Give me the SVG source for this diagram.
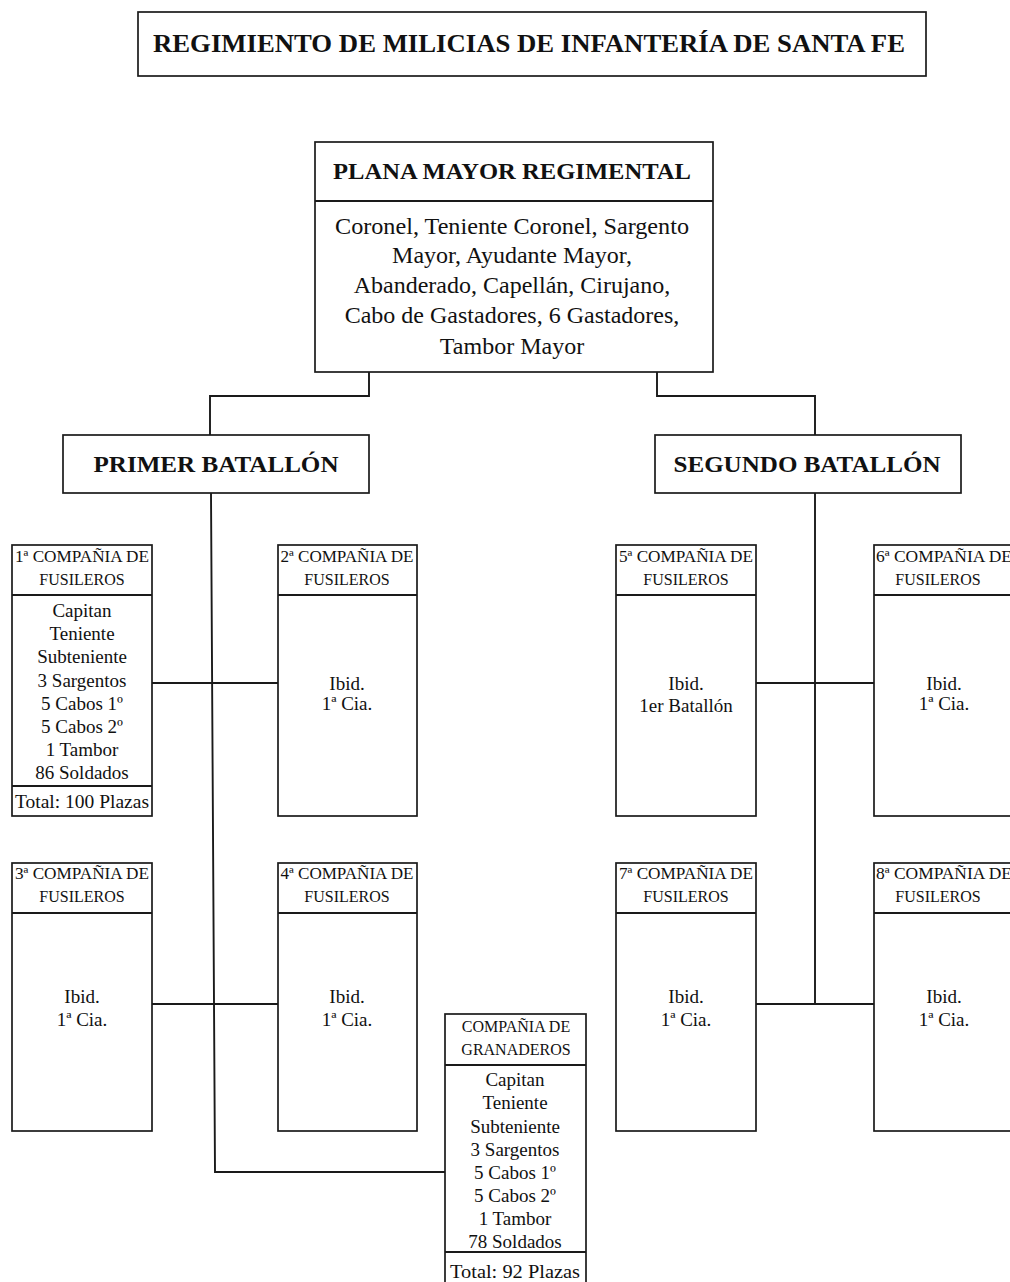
<svg xmlns="http://www.w3.org/2000/svg" width="1010" height="1282" viewBox="0 0 1010 1282">
<style>
.box{fill:#fff;stroke:#1a1a1a;stroke-width:1.7}
.ln{fill:none;stroke:#1a1a1a;stroke-width:1.9}
text{font-family:"Liberation Serif","Times New Roman",serif;fill:#111;text-anchor:middle}
.t{font-size:25px;font-weight:bold}
.h{font-size:24px;font-weight:bold}
.b{font-size:24px}
.ch{font-size:16px}
.cb{font-size:19px}
</style>
<rect width="1010" height="1282" fill="#fff"/>
<g id="connectors">
<path class="ln" d="M369 372V396H210V435"/>
<path class="ln" d="M657 372V396H815V435"/>
<path class="ln" d="M211 493L215 1172H445"/>
<path class="ln" d="M152 683H278"/>
<path class="ln" d="M152 1004H278"/>
<path class="ln" d="M815 493V1004"/>
<path class="ln" d="M756 683H874"/>
<path class="ln" d="M756 1004H874"/>
</g>
<g id="title">
<rect class="box" x="138" y="12" width="788" height="64"/>
<text class="t" x="529" y="52" textLength="752" lengthAdjust="spacingAndGlyphs">REGIMIENTO DE MILICIAS DE INFANTERÍA DE SANTA FE</text>
</g>
<g id="plana-mayor">
<rect class="box" x="315" y="142" width="398" height="230"/>
<line class="ln" x1="315" y1="201" x2="713" y2="201"/>
<text class="h" x="512" y="179" textLength="358" lengthAdjust="spacingAndGlyphs">PLANA MAYOR REGIMENTAL</text>
<text class="b" x="512" y="234" textLength="354" lengthAdjust="spacingAndGlyphs">Coronel, Teniente Coronel, Sargento</text>
<text class="b" x="512" y="263">Mayor, Ayudante Mayor,</text>
<text class="b" x="512" y="293">Abanderado, Capellán, Cirujano,</text>
<text class="b" x="512" y="323">Cabo de Gastadores, 6 Gastadores,</text>
<text class="b" x="512" y="354">Tambor Mayor</text>
</g>
<g id="primer-batallon">
<rect class="box" x="63" y="435" width="306" height="58"/>
<text class="h" x="216" y="472" textLength="245" lengthAdjust="spacingAndGlyphs">PRIMER BATALLÓN</text>
</g>
<g id="segundo-batallon">
<rect class="box" x="655" y="435" width="306" height="58"/>
<text class="h" x="807" y="472" textLength="267" lengthAdjust="spacingAndGlyphs">SEGUNDO BATALLÓN</text>
</g>
<g id="compania-1">
<rect class="box" x="12" y="545" width="140" height="271"/>
<line class="ln" x1="12" y1="595" x2="152" y2="595"/>
<line class="ln" x1="12" y1="786" x2="152" y2="786"/>
<text class="ch" x="82" y="562" textLength="134" lengthAdjust="spacingAndGlyphs">1ª COMPAÑIA DE</text>
<text class="ch" x="82" y="585">FUSILEROS</text>
<text class="cb" x="82" y="617">Capitan</text>
<text class="cb" x="82" y="640">Teniente</text>
<text class="cb" x="82" y="663">Subteniente</text>
<text class="cb" x="82" y="687">3 Sargentos</text>
<text class="cb" x="82" y="710">5 Cabos 1º</text>
<text class="cb" x="82" y="733">5 Cabos 2º</text>
<text class="cb" x="82" y="756">1 Tambor</text>
<text class="cb" x="82" y="779">86 Soldados</text>
<text class="cb" x="82" y="808" textLength="134" lengthAdjust="spacingAndGlyphs">Total: 100 Plazas</text>
</g>
<g id="compania-2">
<rect class="box" x="278" y="545" width="139" height="271"/>
<line class="ln" x1="278" y1="595" x2="417" y2="595"/>
<text class="ch" x="347" y="562" textLength="133" lengthAdjust="spacingAndGlyphs">2ª COMPAÑIA DE</text>
<text class="ch" x="347" y="585">FUSILEROS</text>
<text class="cb" x="347" y="690">Ibid.</text>
<text class="cb" x="347" y="710">1ª Cia.</text>
</g>
<g id="compania-3">
<rect class="box" x="12" y="863" width="140" height="268"/>
<line class="ln" x1="12" y1="913" x2="152" y2="913"/>
<text class="ch" x="82" y="879" textLength="134" lengthAdjust="spacingAndGlyphs">3ª COMPAÑIA DE</text>
<text class="ch" x="82" y="902">FUSILEROS</text>
<text class="cb" x="82" y="1003">Ibid.</text>
<text class="cb" x="82" y="1026">1ª Cia.</text>
</g>
<g id="compania-4">
<rect class="box" x="278" y="863" width="139" height="268"/>
<line class="ln" x1="278" y1="913" x2="417" y2="913"/>
<text class="ch" x="347" y="879" textLength="133" lengthAdjust="spacingAndGlyphs">4ª COMPAÑIA DE</text>
<text class="ch" x="347" y="902">FUSILEROS</text>
<text class="cb" x="347" y="1003">Ibid.</text>
<text class="cb" x="347" y="1026">1ª Cia.</text>
</g>
<g id="compania-granaderos">
<rect class="box" x="445" y="1014" width="141" height="275"/>
<line class="ln" x1="445" y1="1065" x2="586" y2="1065"/>
<line class="ln" x1="445" y1="1252" x2="586" y2="1252"/>
<text class="ch" x="516" y="1032">COMPAÑIA DE</text>
<text class="ch" x="516" y="1055">GRANADEROS</text>
<text class="cb" x="515" y="1086">Capitan</text>
<text class="cb" x="515" y="1109">Teniente</text>
<text class="cb" x="515" y="1133">Subteniente</text>
<text class="cb" x="515" y="1156">3 Sargentos</text>
<text class="cb" x="515" y="1179">5 Cabos 1º</text>
<text class="cb" x="515" y="1202">5 Cabos 2º</text>
<text class="cb" x="515" y="1225">1 Tambor</text>
<text class="cb" x="515" y="1248">78 Soldados</text>
<text class="cb" x="515" y="1278" textLength="130" lengthAdjust="spacingAndGlyphs">Total: 92 Plazas</text>
</g>
<g id="compania-5">
<rect class="box" x="616" y="545" width="140" height="271"/>
<line class="ln" x1="616" y1="595" x2="756" y2="595"/>
<text class="ch" x="686" y="562" textLength="134" lengthAdjust="spacingAndGlyphs">5ª COMPAÑIA DE</text>
<text class="ch" x="686" y="585">FUSILEROS</text>
<text class="cb" x="686" y="690">Ibid.</text>
<text class="cb" x="686" y="712">1er Batallón</text>
</g>
<g id="compania-6">
<rect class="box" x="874" y="545" width="145" height="271"/>
<line class="ln" x1="874" y1="595" x2="1019" y2="595"/>
<text class="ch" x="944" y="562" textLength="136" lengthAdjust="spacingAndGlyphs">6ª COMPAÑIA DE</text>
<text class="ch" x="938" y="585">FUSILEROS</text>
<text class="cb" x="944" y="690">Ibid.</text>
<text class="cb" x="944" y="710">1ª Cia.</text>
</g>
<g id="compania-7">
<rect class="box" x="616" y="863" width="140" height="268"/>
<line class="ln" x1="616" y1="913" x2="756" y2="913"/>
<text class="ch" x="686" y="879" textLength="134" lengthAdjust="spacingAndGlyphs">7ª COMPAÑIA DE</text>
<text class="ch" x="686" y="902">FUSILEROS</text>
<text class="cb" x="686" y="1003">Ibid.</text>
<text class="cb" x="686" y="1026">1ª Cia.</text>
</g>
<g id="compania-8">
<rect class="box" x="874" y="863" width="145" height="268"/>
<line class="ln" x1="874" y1="913" x2="1019" y2="913"/>
<text class="ch" x="944" y="879" textLength="136" lengthAdjust="spacingAndGlyphs">8ª COMPAÑIA DE</text>
<text class="ch" x="938" y="902">FUSILEROS</text>
<text class="cb" x="944" y="1003">Ibid.</text>
<text class="cb" x="944" y="1026">1ª Cia.</text>
</g>
</svg>
